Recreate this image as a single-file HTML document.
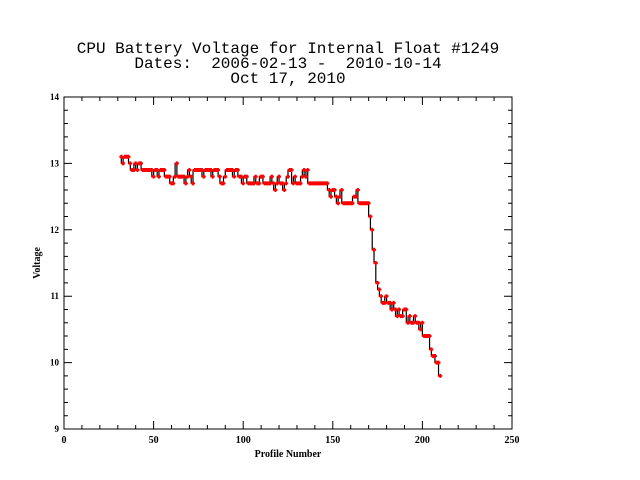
<!DOCTYPE html>
<html><head><meta charset="utf-8"><style>
html,body{margin:0;padding:0;background:#fff;}
svg{display:block;}
text{font-family:"Liberation Serif",serif;fill:#000;}
.ttl{font-family:"Liberation Mono",monospace;}
</style></head><body>
<svg id="chart" width="640" height="480">
<text class="ttl" x="288" y="53" font-size="16" text-anchor="middle">CPU Battery Voltage for Internal Float #1249</text>
<text class="ttl" x="288" y="68" font-size="16" text-anchor="middle" xml:space="preserve">Dates:  2006-02-13 -  2010-10-14</text>
<text class="ttl" x="288" y="83" font-size="16" text-anchor="middle">Oct 17, 2010</text>
<text x="288" y="457" font-size="10" font-weight="bold" text-anchor="middle">Profile Number</text>
<text x="0" y="0" font-size="10" font-weight="bold" text-anchor="middle" transform="translate(40,263) rotate(-90)">Voltage</text>
<rect x="64" y="97" width="448" height="332" fill="none" stroke="#000" stroke-width="1"/>
<g id="axes"></g>
<g id="series"></g>
</svg>
<script>
const xTicks=[0,50,100,150,200,250];
const yTicks=[9,10,11,12,13,14];
const startProfile=32;
const voltage=[13.1,13.0,13.1,13.1,13.1,13.0,
12.9,12.9,13.0,12.9,13.0,13.0,12.9,
12.9,12.9,12.9,12.9,12.9,12.8,12.9,12.9,12.8,12.9,12.9,12.9,
12.8,12.8,12.8,12.7,12.7,12.8,13.0,12.8,12.8,12.8,12.8,12.7,12.8,
12.9,12.8,12.7,12.9,12.9,12.9,12.9,12.9,12.8,12.9,12.9,12.9,12.9,12.8,12.9,12.9,12.9,
12.8,12.7,12.7,12.8,12.9,12.9,12.9,12.9,12.8,12.9,12.9,12.8,12.8,12.7,12.8,12.8,12.7,
12.7,12.7,12.7,12.8,12.7,12.7,12.8,12.8,12.7,12.7,12.7,12.7,12.8,12.7,12.6,12.7,12.8,12.7,12.7,12.6,12.7,12.8,12.9,12.9,12.7,12.8,12.7,12.7,12.7,12.8,12.9,12.8,12.9,12.7,12.7,12.7,12.7,12.7,12.7,12.7,
12.7,12.7,12.7,12.7,12.6,12.5,12.6,12.6,
12.5,12.4,12.5,12.6,12.4,12.4,12.4,12.4,12.4,12.4,12.5,12.5,12.6,12.4,12.4,12.4,12.4,12.4,12.4,12.2,12.0,11.7,11.5,
11.2,11.1,11.0,10.9,10.9,11.0,10.9,10.9,10.8,10.9,10.8,10.7,10.8,10.7,10.7,10.8,10.8,10.6,10.7,10.6,10.6,10.7,10.6,10.6,10.5,10.6,10.4,10.4,10.4,10.4,10.2,10.1,10.1,10.0,10.0,9.8];
const profiles=voltage.map((v,i)=>startProfile+i);
const NS="http://www.w3.org/2000/svg";
const X0=64,X1=512,Y0=429,Y1=97;
const xMin=0,xMax=250,yMin=9,yMax=14;
function sx(v){return X0+(v-xMin)/(xMax-xMin)*(X1-X0);}
function sy(v){return Y0-(v-yMin)/(yMax-yMin)*(Y0-Y1);}
function mk(tag,attrs,parent){const e=document.createElementNS(NS,tag);for(const k in attrs)e.setAttribute(k,attrs[k]);parent.appendChild(e);return e;}
const axes=document.getElementById('axes');
let d='';
for(let v=xMin;v<=xMax+1e-9;v+=10){const x=sx(v);const major=Math.abs(v%50)<1e-6;const L=major?8:4;d+=`M${x},${Y0}v${-L}M${x},${Y1}v${L}`;}
for(let v=yMin;v<=yMax+1e-9;v+=0.2){const y=sy(v);const major=Math.abs(v-Math.round(v))<1e-6;const L=major?8:4;d+=`M${X0},${y}h${L}M${X1},${y}h${-L}`;}
const tk=mk('path',{d:d,stroke:'#000','stroke-width':1,fill:'none'},axes);


xTicks.forEach(v=>{const t=mk('text',{x:sx(v),y:Y0+14,'font-size':10,'font-weight':'bold','text-anchor':'middle'},axes);t.textContent=v;

});
yTicks.forEach(v=>{const t=mk('text',{x:X0-5,y:sy(v)+3,'font-size':9,'font-weight':'bold','text-anchor':'end'},axes);t.textContent=v;

});
const g=document.getElementById('series');
let p='';
profiles.forEach((pr,i)=>{const x=sx(pr),y=sy(voltage[i]);if(i===0)p+=`M${x},${y}`;else p+=`V${y}H${x}`;});
const ln=mk('path',{d:p,stroke:'#000','stroke-width':1.2,fill:'none'},g);


profiles.forEach((pr,i)=>{const x=sx(pr),y=sy(voltage[i]);
const r=mk('path',{d:`M${x-1},${y-2}h2v1h1v2h-1v1h-2v-1h-1v-2h1z`,fill:'#ff0000'},g);

});
</script>
</body></html>
